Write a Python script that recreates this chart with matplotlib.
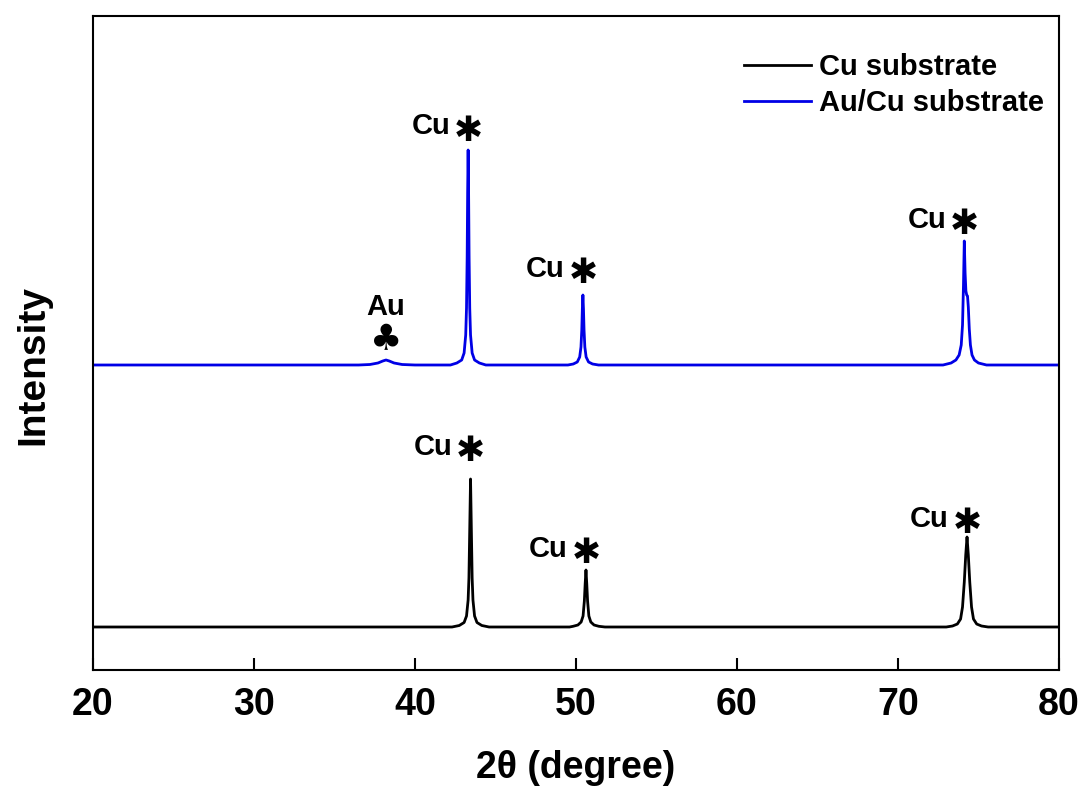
import matplotlib
matplotlib.use('Agg')
import matplotlib.pyplot as plt

# XRD patterns, intensity in arbitrary units
cu_2theta = [20, 42.3, 42.75, 43.05, 43.2, 43.3, 43.35, 43.4, 43.45, 43.5, 43.55, 43.6, 43.7, 43.85, 44.15, 44.6,
             49.6, 49.82, 50.12, 50.32, 50.44, 50.52, 50.57, 50.62, 50.67, 50.72, 50.8, 50.92, 51.12, 51.42, 51.8,
             73.0, 73.39, 73.69, 73.89, 74.01, 74.12, 74.21, 74.29, 74.37, 74.46, 74.57, 74.69, 74.89, 75.19,
             75.6, 80]
cu_intensity = [0, 0, 1.5, 4.5, 11, 27, 49, 98, 148, 98, 49, 27, 11, 4.5, 1.5, 0,
                0, 0.7, 2, 5, 11, 26, 43, 57, 43, 26, 11, 5, 2, 0.7, 0,
                0, 1, 3, 8, 20, 45, 72, 90, 72, 45, 20, 8, 3, 1,
                0, 0]

aucu_2theta = [20, 36.5, 37.2, 37.7, 38.0, 38.2, 38.4, 38.7, 39.2, 40.0,
               42.2, 42.6, 42.9, 43.05, 43.15, 43.2, 43.24, 43.27, 43.3, 43.33, 43.36, 43.4, 43.45, 43.55,
               43.7, 44.0, 44.4,
               49.5, 49.83, 50.08, 50.23, 50.31, 50.36, 50.395, 50.43, 50.465, 50.5, 50.55, 50.63, 50.78,
               51.03, 51.4,
               72.8, 73.3, 73.6, 73.8, 73.93, 74.01, 74.07, 74.12, 74.17, 74.22, 74.27, 74.32, 74.37, 74.43,
               74.5, 74.6, 74.75, 75.0, 75.5, 80]
aucu_intensity = [0, 0, 0.5, 2, 4, 5, 4, 2, 0.5, 0,
                  0, 2, 5, 12, 30, 57, 108, 172, 215, 172, 108, 57, 30, 12,
                  5, 2, 0,
                  0, 1, 3, 8, 18, 35, 56, 70, 56, 35, 18, 8, 3,
                  1, 0,
                  0, 2, 5, 10, 20, 40, 80, 124, 92, 74, 70, 69, 58, 36,
                  20, 10, 5, 2, 0, 0]
aucu_offset = 262

# peak tops that carry a label
cu_peaks = [43.45, 50.62, 74.29]
cu_heights = [148, 57, 90]
aucu_peaks = [43.3, 50.43, 74.12]
aucu_heights = [215, 70, 124]
au_peak = 38.2
au_height = 5

plt.rcParams['font.family'] = ['Liberation Sans', 'DejaVu Sans']
plt.rcParams['font.weight'] = 'bold'

fig = plt.figure(figsize=(10.88, 8), dpi=100)
ax = fig.add_axes([0.0855, 0.1625, 0.8878, 0.8175])

ax.plot(cu_2theta, cu_intensity, color='black', lw=2.0, label='Cu substrate')
ax.plot(aucu_2theta, [v + aucu_offset for v in aucu_intensity], color='#0000e6', lw=2.0,
        label='Au/Cu substrate')

ax.set_xlim(20, 80)
ax.set_ylim(-43, 611)
ax.set_xticks(range(20, 81, 10))
ax.set_yticks([])
ax.tick_params(axis='x', direction='in', length=8.6, width=1.5, pad=12, labelsize=27)
for lab in ax.get_xticklabels():
    lab.set_fontweight('bold')
for sp in ax.spines.values():
    sp.set_linewidth(1.5)

ax.set_xlabel('2θ (degree)', fontsize=27, fontweight='bold', labelpad=20)
fig.text(33 / 1088, 1 - 365 / 800, 'Intensity', rotation=90, ha='center', va='center',
         fontsize=28, fontweight='bold')

leg = ax.legend(loc='upper right', bbox_to_anchor=(0.985, 0.943), frameon=False, fontsize=21,
                handlelength=2.3, handletextpad=0.3, labelspacing=0.28, borderpad=0, borderaxespad=0)
for t in leg.get_texts():
    t.set_fontweight('bold')


def label_peak(x, top, gap):
    ax.annotate('✱', xy=(x, top), xytext=(0, gap), textcoords='offset points',
                ha='center', va='center', fontsize=25, family=['DejaVu Sans'])
    ax.annotate('Cu', xy=(x, top), xytext=(-27, gap + 3), textcoords='offset points',
                ha='center', va='center', fontsize=21, fontweight='bold')


for x, h, g in zip(aucu_peaks, aucu_heights, [14, 16, 12]):
    label_peak(x, h + aucu_offset, g)
for x, h, g in zip(cu_peaks, cu_heights, [20, 12, 10]):
    label_peak(x, h, g)

ax.annotate('♣', xy=(au_peak, au_height + aucu_offset), xytext=(0, 14), textcoords='offset points',
            ha='center', va='center', fontsize=26, family=['DejaVu Sans'])
ax.annotate('Au', xy=(au_peak, au_height + aucu_offset), xytext=(0, 38), textcoords='offset points',
            ha='center', va='center', fontsize=21, fontweight='bold')

fig.savefig('out.png', dpi=100)
